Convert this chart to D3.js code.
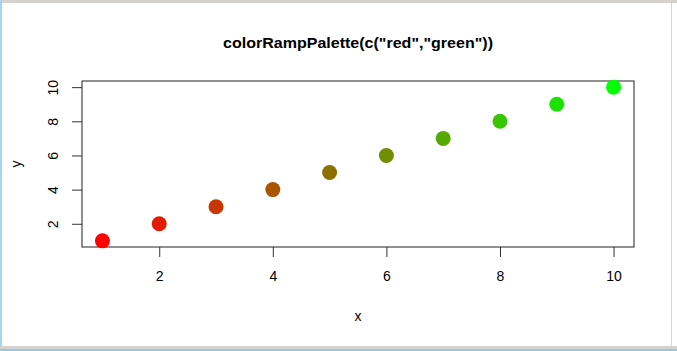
<!DOCTYPE html>
<html>
<head>
<meta charset="utf-8">
<script src="https://cdn.jsdelivr.net/npm/d3@7"></script>
<style>
  html, body { margin: 0; padding: 0; background: #fff; }
  svg { display: block; }
  text { font-family: "Liberation Sans", Arial, Helvetica, sans-serif; fill: #000; }
</style>
</head>
<body>
<script>
// data
var xs = [1, 2, 3, 4, 5, 6, 7, 8, 9, 10]
var ys = [1, 2, 3, 4, 5, 6, 7, 8, 9, 10]
var colors = ['#FF0000', '#E21C00', '#C63800', '#AA5500', '#8D7100',
              '#718D00', '#55AA00', '#38C600', '#1CE200', '#00FF00']
var xTicks = [2, 4, 6, 8, 10]
var yTicks = [2, 4, 6, 8, 10]
var title = 'colorRampPalette(c("red","green"))'

var W = 677, H = 351
var margin = {top: 81, right: 43, bottom: 104, left: 82}
var width = W - margin.left - margin.right
var height = H - margin.top - margin.bottom

var svg = d3.select('body').append('svg')
  .attr('width', W)
  .attr('height', H)

// window frame
svg.append('rect').attr('x', 0).attr('y', 0).attr('width', W).attr('height', 3).attr('fill', '#d6d3cf')
svg.append('rect').attr('x', 0).attr('y', 0).attr('width', 2).attr('height', H).attr('fill', '#a8d4f2')
svg.append('rect').attr('x', 671).attr('y', 0).attr('width', 1).attr('height', H).attr('fill', '#d6d3cf')
svg.append('rect').attr('x', 0).attr('y', 346).attr('width', W).attr('height', 3).attr('fill', '#d6d3cf')
svg.append('rect').attr('x', 0).attr('y', 349).attr('width', W).attr('height', 2).attr('fill', '#8ec8ef')

// R style 4% padding
var xPad = (d3.max(xs) - d3.min(xs)) * 0.04
var yPad = (d3.max(ys) - d3.min(ys)) * 0.04

var x = d3.scaleLinear()
  .domain([d3.min(xs) - xPad, d3.max(xs) + xPad])
  .range([0, width])

var y = d3.scaleLinear()
  .domain([d3.min(ys) - yPad, d3.max(ys) + yPad])
  .range([height, 0])

var g = svg.append('g')
  .attr('transform', 'translate(' + margin.left + ',' + margin.top + ')')

var xAxis = g.append('g')
  .attr('transform', 'translate(0,' + height + ')')
  .call(d3.axisBottom(x).tickValues(xTicks).tickSize(10).tickPadding(14).tickSizeOuter(0))
xAxis.select('.domain').remove()
xAxis.selectAll('line').attr('stroke', '#333')
xAxis.selectAll('text').attr('font-size', 14).attr('font-family', '"Liberation Sans", Arial, sans-serif')

var yAxis = g.append('g')
  .call(d3.axisLeft(y).tickValues(yTicks).tickSize(10).tickSizeOuter(0))
yAxis.select('.domain').remove()
yAxis.selectAll('line').attr('stroke', '#333')
yAxis.selectAll('text')
  .attr('font-size', 14)
  .attr('font-family', '"Liberation Sans", Arial, sans-serif')
  .attr('x', null).attr('dy', null)
  .attr('text-anchor', 'middle')
  .attr('transform', 'translate(-24,0) rotate(-90)')

g.append('rect')
  .attr('x', 0).attr('y', 0)
  .attr('width', width).attr('height', height)
  .attr('fill', 'none')
  .attr('stroke', '#222')
  .attr('stroke-width', 1)

g.selectAll('circle.pt')
  .data(xs)
  .enter().append('circle')
  .attr('class', 'pt')
  .attr('cx', function (d) { return x(d) })
  .attr('cy', function (d, i) { return y(ys[i]) })
  .attr('r', 7.5)
  .attr('fill', function (d, i) { return colors[i] })

svg.append('text')
  .attr('x', margin.left + width / 2)
  .attr('y', 48)
  .attr('text-anchor', 'middle')
  .attr('font-size', 15)
  .attr('font-weight', 'bold')
  .attr('textLength', 270)
  .attr('lengthAdjust', 'spacingAndGlyphs')
  .text(title)

svg.append('text')
  .attr('x', margin.left + width / 2)
  .attr('y', 321)
  .attr('text-anchor', 'middle')
  .attr('font-size', 14)
  .text('x')

svg.append('text')
  .attr('transform', 'translate(21,' + (margin.top + height / 2) + ') rotate(-90)')
  .attr('text-anchor', 'middle')
  .attr('font-size', 14)
  .text('y')
</script>
</body>
</html>
